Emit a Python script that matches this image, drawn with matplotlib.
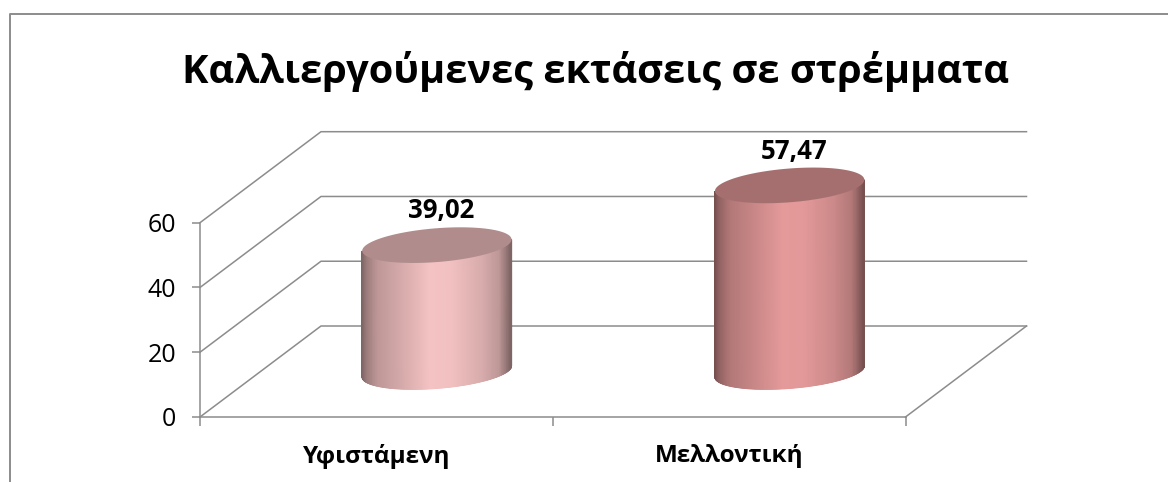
import numpy as np
import matplotlib
matplotlib.use('Agg')
import matplotlib.pyplot as plt
from matplotlib.colors import LinearSegmentedColormap, to_rgb
from matplotlib.lines import Line2D

title = 'Καλλιεργούμενες εκτάσεις σε στρέμματα'
categories = ['Υφιστάμενη', 'Μελλοντική']
values = [39.02, 57.47]
bar_colors = ['#f4c2c2', '#e59a9a']
y_ticks = [0, 20, 40, 60]

W, H = 1168, 482
GRID = '#8c8c8c'
FONT = 'Open Sans'

# depth of the 3d box, in data units of the front plane
DX = 0.343
DY = 28.1
# cylinder footprint
R_X = 0.2007
R_DEPTH = 0.196

SHADE_POS = [0, 0.03, 0.1, 0.25, 0.45, 0.6, 0.8, 0.92, 1]
SHADE_VAL = [0.52, 0.64, 0.78, 0.87, 1, 0.99, 0.89, 0.78, 0.52]


def ring(cx, cy, t):
    x = cx + R_X * np.cos(t) + R_DEPTH * DX * np.sin(t)
    y = cy + R_DEPTH * DY * np.sin(t)
    return x, y


def draw_cylinder(ax, pos, value, color):
    cx = pos + 0.5 + 0.5 * DX
    cy = 0.5 * DY
    base = np.array(to_rgb(color))
    cmap = LinearSegmentedColormap.from_list(
        'c', [(p, tuple(base * s)) for p, s in zip(SHADE_POS, SHADE_VAL)])

    # front half of the wall, between the two x extremes of the ellipse
    t0 = np.arctan2(R_DEPTH * DX, R_X)
    t = np.linspace(t0 - np.pi, t0, 200)
    x, y = ring(cx, cy, t)
    X = np.vstack([x, x])
    Y = np.vstack([y, y + value])
    C = (X - x.min()) / (x.max() - x.min())
    ax.pcolormesh(X, Y, C, cmap=cmap, vmin=0, vmax=1, shading='gouraud',
                  clip_on=False, zorder=3)

    # top face
    t = np.linspace(0, 2 * np.pi, 200)
    x, y = ring(cx, cy + value, t)
    ax.fill(x, y, color=tuple(base * 0.72), lw=0, clip_on=False, zorder=4)

    ax.text(cx + 0.012, cy + value + 10.6, f'{value:.2f}'.replace('.', ','),
            ha='center', va='center', fontsize=18.5, fontweight='bold',
            family=FONT, color='black', clip_on=False, zorder=5)


fig = plt.figure(figsize=(W / 100, H / 100), dpi=100)
ax = fig.add_axes([200 / W, 1 - 417 / H, 705.5 / W, 194.3 / H])
ax.patch.set_visible(False)
ax.set_xlim(0, 2)
ax.set_ylim(0, 60)

for v in y_ticks:
    ax.plot([0, DX, 2 + DX], [v, v + DY, v + DY], color=GRID, lw=1.1,
            clip_on=False, zorder=1)
ax.plot([2, 2 + DX], [0, DY], color=GRID, lw=1.1, clip_on=False, zorder=1)

for i in range(len(values)):
    draw_cylinder(ax, i * 1.0, values[i], bar_colors[i])

for s in ['top', 'right']:
    ax.spines[s].set_visible(False)
for s in ['left', 'bottom']:
    ax.spines[s].set_color(GRID)
    ax.spines[s].set_linewidth(1.1)

ax.set_yticks(y_ticks)
ax.set_xticks([0, 1, 2])
ax.set_xticklabels([])
ax.set_xticks([0.5, 1.5], minor=True)
ax.set_xticklabels(categories, minor=True, fontsize=17.5, fontweight='bold',
                   family=FONT)
ax.tick_params(axis='y', length=6, width=1.1, color=GRID, labelsize=18,
               pad=11, labelfontfamily=FONT)
ax.tick_params(axis='x', which='major', length=6.5, width=1.1, color=GRID)
ax.tick_params(axis='x', which='minor', length=0, pad=19.5)

# chart frame, only top and left edges fall inside the picture
fig.add_artist(Line2D([9.5 / W, 9.5 / W, 1], [0, 1 - 14 / H, 1 - 14 / H],
                      transform=fig.transFigure, color=GRID, lw=1.4))
fig.text(595 / W, 1 - 71 / H, title, ha='center', va='center', fontsize=28.6,
         fontweight='bold', family=FONT, color='black')

fig.savefig('out.png', dpi=100)
